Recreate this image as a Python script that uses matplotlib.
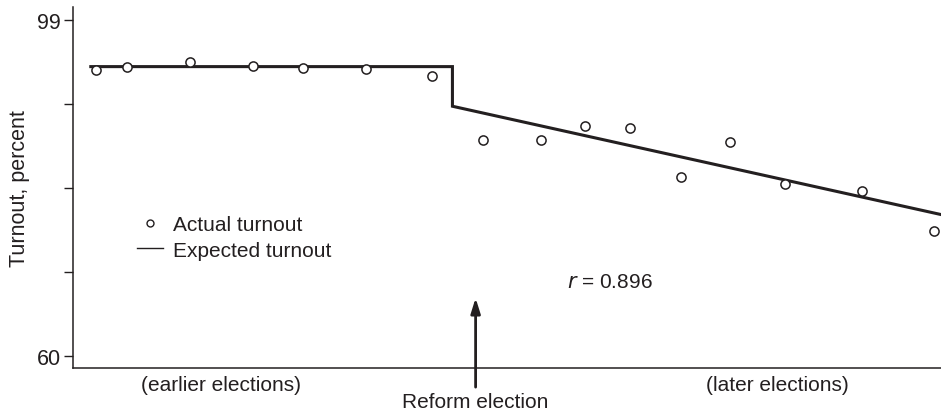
import matplotlib
matplotlib.use("Agg")
import matplotlib.pyplot as plt
from matplotlib.lines import Line2D

plt.rcParams['font.family'] = ['Liberation Sans', 'DejaVu Sans']

# --- data ---
election_x = [2.65, 6.23, 13.56, 20.79, 26.55, 33.82, 41.39,
              47.23, 53.96, 58.99, 64.18, 70.06, 75.67, 82.01, 90.92, 99.16]
actual_turnout = [93.16, 93.55, 94.06, 93.6, 93.4, 93.3, 92.43,
                  85.08, 85.08, 86.70, 86.44, 80.72, 84.85, 79.94, 79.09, 74.52]
expected_x = [2.08, 43.73, 43.73, 100.0]
expected_turnout = [93.55, 93.55, 88.95, 76.38]
ytick_values = [60, 69.75, 79.5, 89.25, 99]
ytick_labels = ["60", "", "", "", "99"]
r_value = 0.896
reform_x = 46.4

ink = "#231f20"
fs = 15

fig = plt.figure(figsize=(9.41, 4.14), dpi=100)
ax = fig.add_axes([0.0773, 0.1087, 0.9227, 0.8720])

ax.plot(expected_x, expected_turnout, color=ink, lw=2.2, solid_joinstyle='miter',
        zorder=2)
ax.plot(election_x, actual_turnout, linestyle='none', marker='o', markersize=6.6,
        markerfacecolor='white', markeredgecolor=ink, markeredgewidth=1.1, zorder=3)

ax.set_xlim(0, 100)
ax.set_ylim(58.57, 100.47)
ax.set_xticks([])
ax.set_yticks(ytick_values)
ax.set_yticklabels(ytick_labels)
ax.tick_params(axis='y', length=6.5, width=1.0, color=ink, labelsize=15.5,
               labelcolor=ink, pad=2)
for s in ['top', 'right']:
    ax.spines[s].set_visible(False)
for s in ['left', 'bottom']:
    ax.spines[s].set_color(ink)
    ax.spines[s].set_linewidth(1.1)

ax.set_ylabel("Turnout, percent", fontsize=15.5, color=ink, labelpad=5)

handles = [
    Line2D([], [], linestyle='none', marker='o', markersize=5, markerfacecolor='white',
           markeredgecolor=ink, markeredgewidth=1.0),
    Line2D([], [], color=ink, lw=1.0),
]
ax.legend(handles, ["Actual turnout", "Expected turnout"], loc='upper left',
          bbox_to_anchor=(0.0741, 0.423), frameon=False, fontsize=fs,
          handlelength=1.25, handletextpad=0.48, labelspacing=0.3,
          borderpad=0, borderaxespad=0, labelcolor=ink)

ax.text(56.9, 68.6, f"$\\it{{r}}$ = {r_value}", fontsize=fs, color=ink,
        ha='left', va='center')

xtrans = ax.get_xaxis_transform()
ax.text(17.1, -0.047, "(earlier elections)", transform=xtrans, fontsize=fs,
        color=ink, ha='center', va='center')
ax.text(81.2, -0.047, "(later elections)", transform=xtrans, fontsize=fs,
        color=ink, ha='center', va='center')
ax.text(reform_x, -0.093, "Reform election", transform=xtrans, fontsize=fs,
        color=ink, ha='center', va='center', clip_on=False)
ax.annotate("", xy=(reform_x, 0.194), xytext=(reform_x, -0.053),
            xycoords=xtrans, textcoords=xtrans,
            arrowprops=dict(arrowstyle='-|>,head_length=0.9,head_width=0.28',
                            color=ink, lw=2.0, shrinkA=0, shrinkB=0),
            annotation_clip=False)

fig.savefig("out.png", dpi=100)
